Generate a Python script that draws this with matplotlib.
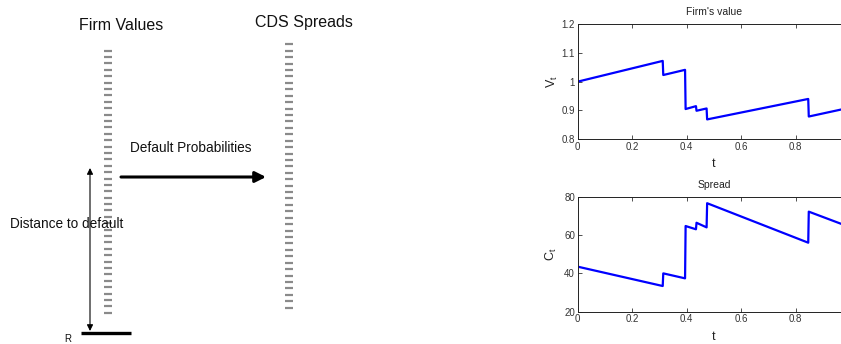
import numpy as np
import matplotlib
matplotlib.use("Agg")
import matplotlib.pyplot as plt

plt.rcParams['font.family'] = ['Liberation Sans', 'DejaVu Sans']

# ---- data ----
t_vals = [0.0, 0.312, 0.314, 0.394, 0.396, 0.434, 0.436, 0.473, 0.475, 0.846, 0.848, 0.975]
firm_value = [1.0, 1.072, 1.023, 1.041, 0.905, 0.915, 0.899, 0.907, 0.869, 0.940, 0.879, 0.905]
spread = [43.5, 33.4, 40.0, 37.4, 64.7, 63.0, 66.4, 64.0, 76.6, 56.0, 72.2, 65.4]

x_ticks = [0, 0.2, 0.4, 0.6, 0.8]
x_ticklabels = ['0', '0.2', '0.4', '0.6', '0.8']
v_ticks = [0.8, 0.9, 1.0, 1.1, 1.2]
v_ticklabels = ['0.8', '0.9', '1', '1.1', '1.2']
c_ticks = [20, 40, 60, 80]
c_ticklabels = ['20', '40', '60', '80']

W, H = 841, 344
fig = plt.figure(figsize=(W / 100, H / 100), dpi=100)

# ---- schematic diagram on the left (pixel coordinates) ----
ax0 = fig.add_axes([0, 0, 1, 1])
ax0.set_xlim(0, W)
ax0.set_ylim(H, 0)
ax0.axis('off')

dash_gray = '#8a8a8a'
firm_col_x, firm_top, firm_bot = 108.5, 50.7, 312.7
cds_col_x, cds_top, cds_bot = 289.3, 44.3, 307.7
n_firm = 42
n_cds = 42
ax0.plot([firm_col_x] * n_firm, np.linspace(firm_top, firm_bot, n_firm), ls='none',
         marker='_', ms=5.2, mew=1.6, color=dash_gray)
ax0.plot([cds_col_x] * n_cds, np.linspace(cds_top, cds_bot, n_cds), ls='none',
         marker='_', ms=5.2, mew=1.6, color=dash_gray)

ax0.text(121, 25, 'Firm Values', fontsize=11.5, ha='center', va='center', color='#111111')
ax0.text(304, 23, 'CDS Spreads', fontsize=11.5, ha='center', va='center', color='#111111')
ax0.text(191, 148, 'Default Probabilities', fontsize=9.8, ha='center', va='center', color='#111111')
ax0.text(10, 224, 'Distance to default', fontsize=9.8, ha='left', va='center', color='#111111')
ax0.text(68, 339, 'R', fontsize=7, ha='center', va='center', color='#111111')

ax0.annotate('', xy=(266, 177), xytext=(121, 177),
             arrowprops=dict(arrowstyle='-|>', lw=2.2, color='black',
                             mutation_scale=16, shrinkA=0, shrinkB=0))
ax0.annotate('', xy=(90, 168), xytext=(90, 331),
             arrowprops=dict(arrowstyle='<|-|>', lw=0.8, color='black',
                             mutation_scale=9, shrinkA=0, shrinkB=0))
ax0.plot([81, 131], [333.3, 333.3], color='black', lw=2.4, solid_capstyle='butt')

# ---- time-series panels on the right ----
left = 577.7 / W
width = 272.5 / W
ax1 = fig.add_axes([left, 1 - 139.3 / H, width, (139.3 - 24) / H])
ax2 = fig.add_axes([left, 1 - 311.7 / H, width, (311.7 - 196.7) / H])

def style(ax):
    ax.set_xlim(0, 1)
    ax.set_xticks(x_ticks)
    ax.set_xticklabels(x_ticklabels)
    ax.tick_params(direction='in', top=True, right=True, length=3, width=0.6,
                   labelsize=7, colors='#333333', pad=2)
    for s in ax.spines.values():
        s.set_linewidth(0.7)
        s.set_color('#222222')
    ax.set_xlabel('t', fontsize=9, labelpad=4.5, color='#222222')

ax1.plot(t_vals, firm_value, color='#0000ff', lw=1.6)
style(ax1)
ax1.set_ylim(0.8, 1.2)
ax1.set_yticks(v_ticks)
ax1.set_yticklabels(v_ticklabels)
ax1.set_title("Firm's value", fontsize=7.5, pad=6.5, color='#222222')
ax1.set_ylabel('V$_\\mathregular{t}$', fontsize=9, color='#222222')
ax1.yaxis.set_label_coords(-0.065, 0.5)

ax2.plot(t_vals, spread, color='#0000ff', lw=1.6)
style(ax2)
ax2.set_ylim(20, 80)
ax2.set_yticks(c_ticks)
ax2.set_yticklabels(c_ticklabels)
ax2.set_title('Spread', fontsize=7.5, pad=6.5, color='#222222')
ax2.set_ylabel('C$_\\mathregular{t}$', fontsize=9, color='#222222')
ax2.yaxis.set_label_coords(-0.07, 0.5)

fig.savefig('out.png', dpi=100)
